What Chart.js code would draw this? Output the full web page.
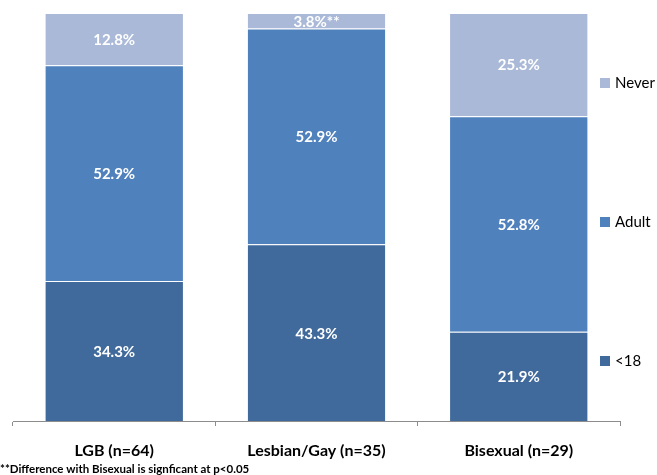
<!DOCTYPE html>
<html>
<head>
<meta charset="utf-8">
<script src="https://cdn.jsdelivr.net/npm/chart.js@4/dist/chart.umd.min.js"></script>
<style>
  html, body { margin: 0; padding: 0; background: #fff; }
  #wrap { width: 657px; height: 475px; }
</style>
</head>
<body>
<div id="wrap"><canvas id="c" width="657" height="475"></canvas></div>
<script>
// groups along the x axis
var categories = ['LGB (n=64)', 'Lesbian/Gay (n=35)', 'Bisexual (n=29)'];

// percent of each group, bottom to top
var under18 = [34.3, 43.3, 21.9];
var adult   = [52.9, 52.9, 52.8];
var never   = [12.8, 3.8, 25.3];

// extra marks after a value
var labelSuffix = {
  never: ['', '**', '']
};

var footnote = '**Difference with Bisexual is signficant at p<0.05';

var FONT = 'Lato, "Noto Sans", sans-serif';

// white value text in the middle of each segment
var segmentLabels = {
  id: 'segmentLabels',
  afterDatasetsDraw: function(chart) {
    var ctx = chart.ctx;
    ctx.save();
    ctx.fillStyle = '#ffffff';
    ctx.font = 'bold 15px ' + FONT;
    ctx.textAlign = 'center';
    ctx.textBaseline = 'middle';
    chart.data.datasets.forEach(function(ds, di) {
      var meta = chart.getDatasetMeta(di);
      meta.data.forEach(function(bar, i) {
        var txt = ds.data[i].toFixed(1) + '%' + ((ds.suffix && ds.suffix[i]) || '');
        var y = (bar.y + bar.base) / 2 + 1;
        ctx.fillText(txt, bar.x, y);
      });
    });
    ctx.restore();
  }
};

// legend spread down the right side, top entry first
var sideLegend = {
  id: 'sideLegend',
  afterDraw: function(chart) {
    var ctx = chart.ctx;
    var ds = chart.data.datasets.slice().reverse();
    var ys = [83, 222, 361];
    ctx.save();
    ctx.font = '15px ' + FONT;
    ctx.textBaseline = 'middle';
    ctx.textAlign = 'left';
    ds.forEach(function(d, k) {
      ctx.fillStyle = d.backgroundColor;
      ctx.fillRect(600, ys[k] - 5, 10, 10);
      ctx.fillStyle = '#000000';
      ctx.fillText(d.label, 615, ys[k]);
    });
    ctx.restore();
  }
};

var footnotePlugin = {
  id: 'footnote',
  afterDraw: function(chart) {
    var ctx = chart.ctx;
    ctx.save();
    ctx.font = 'bold 11.5px ' + FONT;
    ctx.fillStyle = '#000000';
    ctx.textBaseline = 'middle';
    ctx.fillText(footnote, 0, 469);
    ctx.restore();
  }
};

new Chart(document.getElementById('c'), {
  type: 'bar',
  data: {
    labels: categories,
    datasets: [
      { label: '<18',   data: under18, backgroundColor: '#406a9b' },
      { label: 'Adult', data: adult,   backgroundColor: '#4f81bd' },
      { label: 'Never', data: never,   backgroundColor: '#aab9d8', suffix: labelSuffix.never }
    ]
  },
  options: {
    responsive: false,
    animation: false,
    layout: { padding: { left: 13, right: 37, top: 13, bottom: 0 } },
    datasets: {
      bar: {
        barPercentage: 0.68,
        categoryPercentage: 1,
        borderWidth: { top: 1 },
        borderColor: 'rgba(255,255,255,0.25)'
      }
    },
    plugins: {
      legend: { display: false },
      tooltip: { enabled: false }
    },
    scales: {
      x: {
        stacked: true,
        afterFit: function(scale) { scale.height = 54; },
        border: { display: true, color: '#8c8c8c', width: 1 },
        grid: {
          display: true,
          offset: true,
          drawOnChartArea: false,
          drawTicks: true,
          tickLength: 5,
          color: '#8c8c8c'
        },
        ticks: {
          padding: 15,
          color: '#000000',
          font: { family: FONT, size: 16, weight: 'bold' }
        }
      },
      y: {
        stacked: true,
        display: false,
        min: 0,
        max: 100
      }
    }
  },
  plugins: [segmentLabels, sideLegend, footnotePlugin]
});
</script>
</body>
</html>
